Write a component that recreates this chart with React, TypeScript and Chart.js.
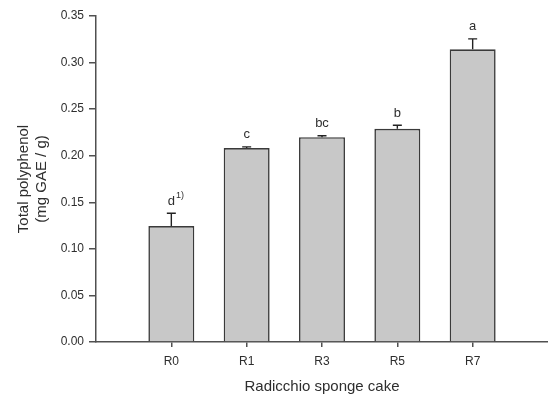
import React, { useEffect, useRef } from 'react';
import { Chart, registerables } from 'chart.js';

Chart.register(...registerables);

const categories = ['R0', 'R1', 'R3', 'R5', 'R7'];
const values = [0.1245, 0.2082, 0.2198, 0.2289, 0.3142];
const errors = [0.0138, 0.0013, 0.0017, 0.0038, 0.0112];
const letters = ['d', 'c', 'bc', 'b', 'a'];
const letterNotes = ['1)', '', '', '', ''];
const yTicks = [0, 0.05, 0.1, 0.15, 0.2, 0.25, 0.3, 0.35];
const xTitle = 'Radicchio sponge cake';
const yTitle = ['Total polyphenol', '(mg GAE / g)'];

const FONT = "'Liberation Sans', Arial, sans-serif";
const TEXT = '#2e2e2e';
const AXIS = '#505050';

const errorBarPlugin = {
  id: 'errorBars',
  afterDatasetsDraw(chart: any) {
    const meta = chart.getDatasetMeta(0);
    const yScale = chart.scales.y;
    const ctx = chart.ctx;
    ctx.save();
    meta.data.forEach((bar: any, i: number) => {
      const top = yScale.getPixelForValue(values[i]);
      const errTop = yScale.getPixelForValue(values[i] + errors[i]);
      const x = bar.x;
      ctx.strokeStyle = '#222222';
      ctx.lineWidth = 1.4;
      ctx.beginPath();
      ctx.moveTo(x, top);
      ctx.lineTo(x, errTop);
      ctx.moveTo(x - 4.5, errTop);
      ctx.lineTo(x + 4.5, errTop);
      ctx.stroke();

      const ly = errTop - 12;
      ctx.fillStyle = TEXT;
      ctx.font = `13px ${FONT}`;
      ctx.textAlign = 'center';
      ctx.textBaseline = 'middle';
      ctx.fillText(letters[i], x, ly);
      if (letterNotes[i]) {
        const w = ctx.measureText(letters[i]).width;
        ctx.font = `9px ${FONT}`;
        ctx.textAlign = 'left';
        ctx.fillText(letterNotes[i], x + w / 2 + 1, ly - 6);
      }
    });
    ctx.restore();
  },
};

export default function App() {
  const ref = useRef<HTMLCanvasElement | null>(null);

  useEffect(() => {
    if (!ref.current) return;
    const chart = new Chart(ref.current, {
      type: 'bar',
      data: {
        datasets: [
          {
            data: values.map((v, i) => ({ x: i + 1, y: v })),
            backgroundColor: '#c8c8c8',
            borderColor: '#3a3a3a',
            borderWidth: 1.6,
            borderSkipped: 'start',
            barPercentage: 0.61,
            categoryPercentage: 1,
          },
        ],
      },
      options: {
        responsive: false,
        animation: false,
        layout: { padding: { top: 16, right: 0, left: 0, bottom: 0 } },
        plugins: {
          legend: { display: false },
          tooltip: { enabled: false },
        },
        scales: {
          x: {
            type: 'linear',
            min: 0,
            max: categories.length + 1,
            offset: false,
            afterBuildTicks: (scale: any) => {
              scale.ticks = categories.map((_, i) => ({ value: i + 1 }));
            },
            afterFit: (scale: any) => {
              scale.height = 54;
            },
            ticks: {
              autoSkip: false,
              maxRotation: 0,
              padding: 7,
              color: TEXT,
              font: { family: FONT, size: 12 },
              callback: (v: any) => categories[Number(v) - 1] ?? '',
            },
            grid: {
              display: true,
              drawOnChartArea: false,
              drawTicks: true,
              tickLength: 5,
              color: AXIS,
              lineWidth: 1.5,
              offset: false,
            },
            border: { display: true, color: AXIS, width: 1.5 },
            title: {
              display: true,
              text: xTitle,
              color: TEXT,
              font: { family: FONT, size: 15 },
              padding: { top: 0, bottom: 0 },
            },
          },
          y: {
            type: 'linear',
            min: 0,
            max: yTicks[yTicks.length - 1],
            afterBuildTicks: (scale: any) => {
              scale.ticks = yTicks.map((v) => ({ value: v }));
            },
            afterFit: (scale: any) => {
              scale.width = 96;
            },
            ticks: {
              padding: 5,
              color: TEXT,
              font: { family: FONT, size: 12 },
              callback: (v: any) => Number(v).toFixed(2),
            },
            grid: {
              display: true,
              drawOnChartArea: false,
              drawTicks: true,
              tickLength: 7,
              color: AXIS,
              lineWidth: 1.5,
            },
            border: { display: true, color: AXIS, width: 1.5 },
            title: {
              display: true,
              text: yTitle,
              color: TEXT,
              font: { family: FONT, size: 15, lineHeight: 1.2 },
              padding: { top: 15, bottom: 0 },
            },
          },
        },
      },
      plugins: [errorBarPlugin],
    } as any);
    return () => chart.destroy();
  }, []);

  return (
    <div style={{ position: 'absolute', left: 0, top: 0, width: 548, height: 396, background: '#ffffff' }}>
      <canvas ref={ref} width={548} height={396} />
    </div>
  );
}
